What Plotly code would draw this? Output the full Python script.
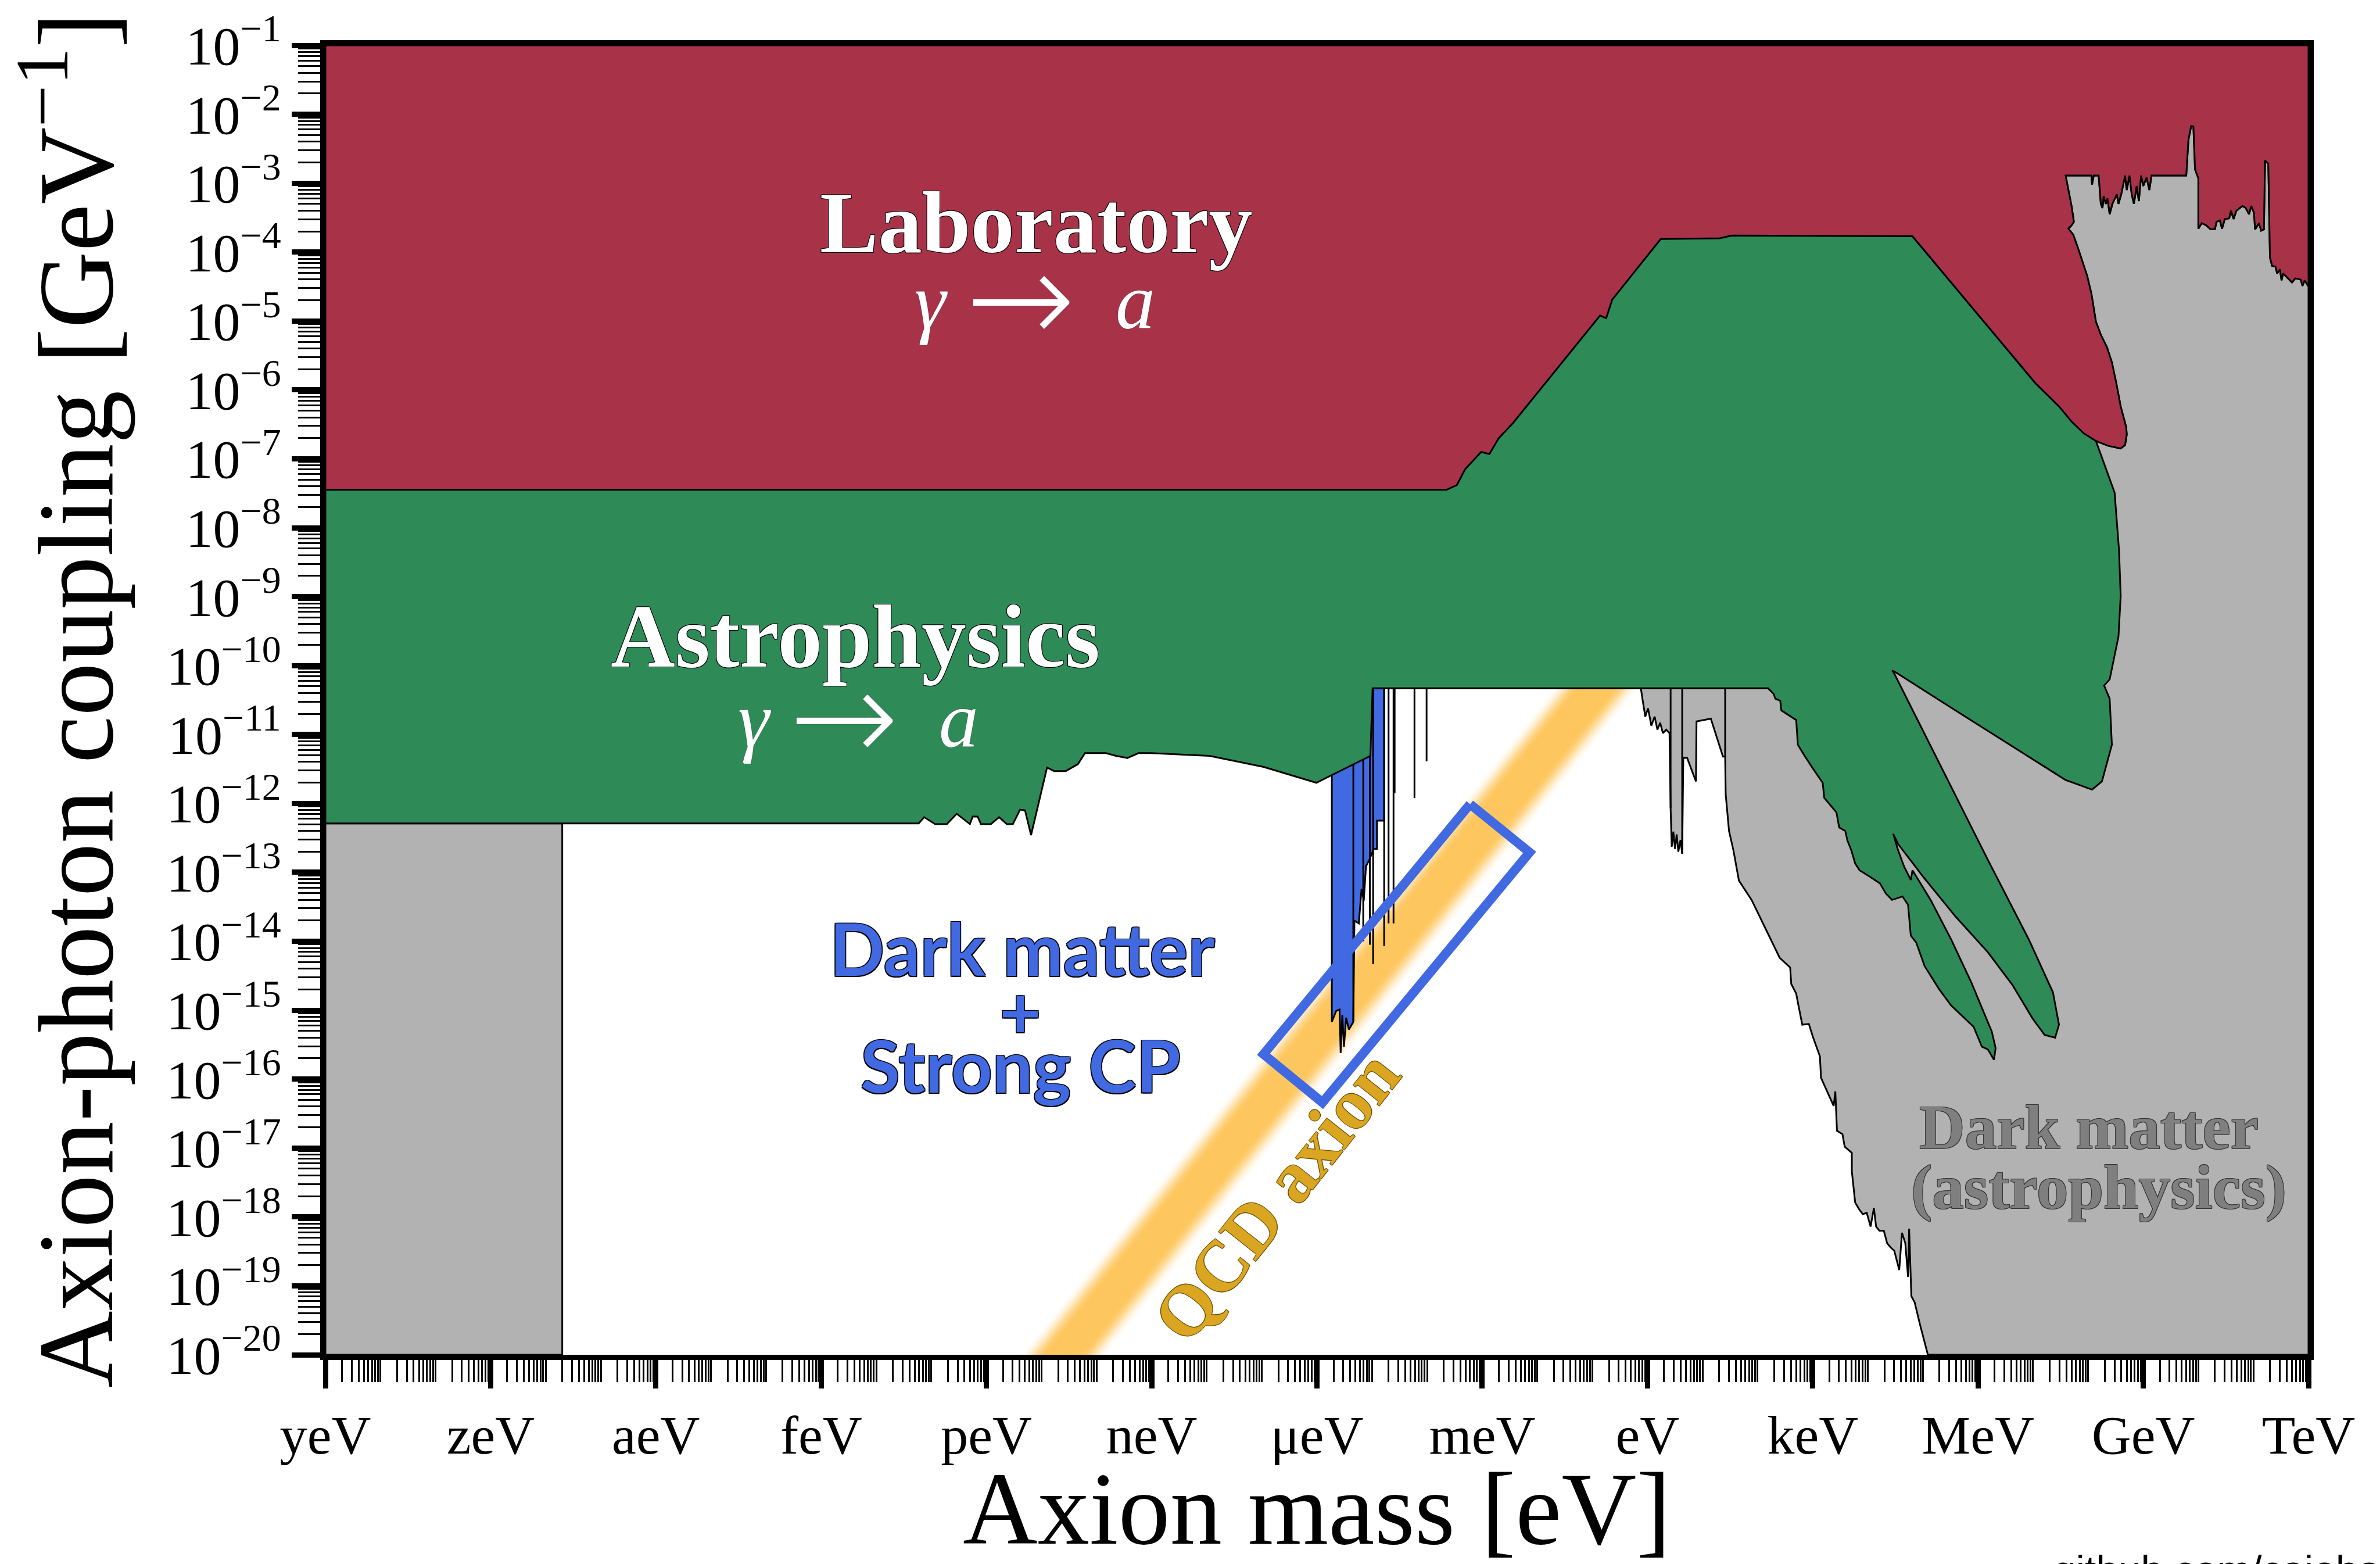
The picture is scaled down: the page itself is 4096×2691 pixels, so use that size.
import numpy as np
import plotly.graph_objects as go

S = 0.991
W, H = 4096, 2691

# ---------------- data: (log10 axion mass [eV], log10 coupling [GeV^-1]) ----------------
lab_limit = [(-24.0, -7.45), (-3.65, -7.45), (-3.46, -7.38), (-3.31, -7.15), (-3.02, -6.90), (-2.87, -6.93),
             (-2.70, -6.70), (-2.44, -6.48), (-0.86, -4.92), (-0.75, -4.96), (-0.64, -4.69), (0.24, -3.81),
             (1.31, -3.80), (1.53, -3.76), (4.81, -3.77), (7.04, -5.90), (7.47, -6.24), (7.70, -6.46),
             (7.92, -6.63), (8.14, -6.74), (8.36, -6.81)]

lab_tongue = [(8.59, -6.85), (8.67, -6.80), (8.70, -6.65), (8.69, -6.54), (8.59, -6.24), (8.51, -5.90),
              (8.43, -5.60), (8.34, -5.38), (8.23, -5.20), (8.14, -5.01), (8.11, -4.86), (8.06, -4.61),
              (7.98, -4.34), (7.89, -4.12), (7.81, -3.93), (7.73, -3.75), (7.64, -3.66), (7.70, -3.61),
              (7.74, -3.56), (7.70, -3.34), (7.64, -3.08), (7.59, -2.89)]

dm_astro_top = [(7.59, -2.89), (8.06, -2.89), (8.07, -3.02), (8.10, -2.89), (8.19, -2.89), (8.23, -3.30),
                (8.26, -3.36), (8.28, -3.19), (8.32, -3.30), (8.35, -3.22), (8.39, -3.45), (8.44, -3.30),
                (8.52, -3.16), (8.55, -3.30), (8.60, -3.16), (8.67, -2.89), (8.70, -3.10), (8.75, -2.89),
                (8.79, -3.16), (8.83, -3.30), (8.88, -3.04), (8.92, -3.26), (8.96, -2.89), (9.00, -3.04),
                (9.06, -2.92), (9.11, -3.10), (9.15, -2.89), (9.78, -2.89), (9.82, -2.37), (9.87, -2.17),
                (9.91, -2.18), (9.94, -2.80), (10.00, -2.93), (10.00, -3.66), (10.06, -3.58), (10.14, -3.61),
                (10.22, -3.67), (10.30, -3.67), (10.33, -3.56), (10.39, -3.54), (10.43, -3.66), (10.48, -3.52),
                (10.56, -3.51), (10.59, -3.40), (10.64, -3.52), (10.69, -3.40), (10.80, -3.33), (10.86, -3.36),
                (10.92, -3.45), (10.96, -3.33), (11.01, -3.43), (11.03, -3.67), (11.10, -3.58), (11.14, -3.69),
                (11.19, -3.67), (11.21, -2.67), (11.27, -2.72), (11.30, -4.08), (11.34, -4.20), (11.40, -4.21),
                (11.43, -4.31), (11.48, -4.25), (11.51, -4.41), (11.54, -4.31), (11.70, -4.44), (11.76, -4.38),
                (11.86, -4.40), (11.89, -4.49), (11.93, -4.41), (12.00, -4.50)]

dm_astro_edge = [(-0.12, -10.33), (-0.09, -10.49), (-0.04, -10.74), (0.01, -10.62), (0.07, -10.87), (0.13, -10.74),
                 (0.18, -10.93), (0.23, -10.83), (0.28, -10.98), (0.34, -10.93), (0.40, -10.98), (0.42, -12.07),
                 (0.44, -12.63), (0.47, -12.41), (0.50, -12.66), (0.53, -12.45), (0.56, -12.70), (0.60, -12.53),
                 (0.63, -12.73), (0.65, -11.34), (0.72, -11.34), (0.88, -11.68), (0.89, -10.81), (1.01, -10.79),
                 (1.15, -10.77), (1.37, -11.32), (1.41, -11.32), (1.42, -11.87), (1.48, -12.40), (1.56, -12.68),
                 (1.66, -13.12), (1.89, -13.40), (2.18, -13.88), (2.40, -14.24), (2.59, -14.38), (2.61, -14.62),
                 (2.70, -14.76), (2.74, -14.93), (2.81, -15.21), (2.93, -15.20), (3.00, -15.38), (3.13, -15.67),
                 (3.15, -15.98), (3.27, -16.20), (3.38, -16.39), (3.41, -16.18), (3.44, -16.75), (3.54, -16.80),
                 (3.58, -16.98), (3.71, -17.07), (3.71, -17.34), (3.77, -17.79), (3.85, -17.90), (3.91, -17.96),
                 (3.98, -17.94), (4.05, -18.14), (4.11, -17.87), (4.15, -18.14), (4.21, -18.20), (4.29, -18.20),
                 (4.35, -18.38), (4.41, -18.44), (4.48, -18.49), (4.57, -18.77), (4.62, -18.23), (4.68, -18.38),
                 (4.73, -18.87), (4.75, -18.17), (4.79, -19.15), (4.85, -19.24), (4.95, -19.57), (5.09, -20.0)]

astro_limit = [(-24.0, -12.29), (-13.23, -12.29), (-13.13, -12.20), (-12.93, -12.30), (-12.72, -12.30),
               (-12.54, -12.15), (-12.30, -12.30), (-12.25, -12.19), (-12.16, -12.19), (-12.10, -12.30),
               (-11.92, -12.30), (-11.77, -12.20), (-11.63, -12.30), (-11.52, -12.30), (-11.39, -12.09),
               (-11.30, -12.10), (-11.19, -12.46), (-10.90, -11.48), (-10.77, -11.53), (-10.56, -11.53),
               (-10.34, -11.43), (-10.21, -11.27), (-9.83, -11.27), (-9.65, -11.31), (-9.44, -11.34),
               (-9.24, -11.27), (-9.02, -11.27), (-7.95, -11.31), (-6.97, -11.47), (-6.01, -11.70),
               (-5.03, -11.31), (-4.99, -10.33), (2.19, -10.33), (2.29, -10.41), (2.32, -10.48), (2.41, -10.51),
               (2.43, -10.65), (2.70, -10.79), (2.73, -11.15), (2.86, -11.32), (3.00, -11.49), (3.18, -11.70),
               (3.21, -11.92), (3.33, -12.04), (3.43, -12.13), (3.48, -12.35), (3.59, -12.40), (3.63, -12.54),
               (3.70, -12.68), (3.77, -12.87), (3.85, -12.97), (4.03, -13.06), (4.22, -13.16), (4.33, -13.31),
               (4.44, -13.40), (4.63, -13.35), (4.73, -13.47), (4.78, -13.92), (4.88, -14.02), (5.03, -14.36),
               (5.29, -14.69), (5.51, -14.93), (5.70, -15.07), (5.92, -15.24), (6.07, -15.53), (6.18, -15.57),
               (6.29, -15.72), (6.32, -15.55), (6.25, -15.31), (6.07, -14.96), (5.88, -14.60), (5.51, -13.97),
               (5.14, -13.40), (4.81, -12.97), (4.78, -13.11), (4.66, -12.92), (4.55, -12.68), (4.46, -12.44),
               (4.55, -12.59), (5.00, -13.06), (5.59, -13.64), (6.18, -14.16), (6.63, -14.64), (6.99, -15.12),
               (7.21, -15.36), (7.40, -15.40), (7.47, -15.21), (7.36, -14.74), (6.92, -13.97), (6.18, -12.82),
               (5.22, -11.30), (4.47, -10.10), (4.44, -10.07), (4.51, -10.10), (5.59, -10.65), (6.77, -11.25),
               (7.59, -11.66), (8.07, -11.80), (8.25, -11.68), (8.43, -11.15), (8.39, -10.48), (8.29, -10.29),
               (8.39, -10.20), (8.55, -9.58), (8.59, -8.99), (8.56, -8.33), (8.48, -7.49), (8.14, -6.74)]

haloscopes = [(-5.73, -11.49), (-5.73, -15.17), (-5.65, -15.01), (-5.59, -14.99), (-5.57, -15.62), (-5.54, -15.07),
              (-5.51, -15.53), (-5.47, -15.11), (-5.42, -15.28), (-5.34, -15.17), (-5.32, -13.70), (-5.24, -13.74),
              (-5.19, -13.24), (-5.15, -13.41), (-5.11, -12.91), (-5.05, -12.82), (-4.97, -12.66), (-4.91, -12.66),
              (-4.91, -12.25), (-4.78, -12.25), (-4.78, -10.33), (-5.73, -10.33)]

# thin exclusion-limit lines hanging from the edge of the astrophysical bound: (log10 m, lowest log10 g)
limit_lines = [(-5.34, -15.17), (-5.16, -14.00), (-5.04, -14.05), (-4.98, -14.33), (-4.78, -14.07),
               (-4.70, -13.74), (-4.61, -13.74), (-4.59, -11.85), (-4.23, -11.92), (-4.01, -11.39),
               (0.42, -12.07), (0.63, -12.73), (1.41, -11.32)]
hole_top = -10.33

low_mass_dm = [(-24.0, -20.0), (-19.70, -20.0), (-19.70, -12.29), (-24.0, -12.29)]
dm_box = [(-3.22, -12.01), (-2.14, -12.71), (-5.90, -16.34), (-6.97, -15.64)]
qcd_axis = [(-11.6, -21.0), (0.4, -9.0)]
qcd_core = 0.3
qcd_edge = 0.8

x_tick_exp = list(range(-24, 13, 3))
x_tick_text = ["yeV", "zeV", "aeV", "feV", "peV", "neV", "μeV", "meV", "eV", "keV", "MeV", "GeV", "TeV"]
y_tick_exp = list(range(-20, 0))

# colours
RED = "#A83349"
GREEN = "#2E8B57"
GREY = "#B2B2B2"
BLUE = "#4169E1"
ORANGE = (254, 198, 94)
QCD_TXT = "#DAA520"


def xy(pts):
    return [10.0 ** p[0] for p in pts], [10.0 ** p[1] for p in pts]


fig = go.Figure()


def poly(pts, fill, lw=3.0, lc="black"):
    x, y = xy(list(pts) + [pts[0]])
    fig.add_trace(go.Scatter(x=x, y=y, mode="lines", fill="toself", fillcolor=fill,
                             line=dict(color=lc, width=lw * S), hoverinfo="skip", showlegend=False))


# QCD axion band (soft gradient via nested bands)
(lm0, lg0), (lm1, lg1) = qcd_axis
n = 22
for i in range(1, n + 1):
    d = qcd_edge - i * (qcd_edge - qcd_core) / n
    w = 0.5 * (1 - np.cos(np.pi * i / n))
    col = "rgb(%d,%d,%d)" % tuple(round(255 + (c - 255) * w) for c in ORANGE)
    pts = [(lm0 - d, lg0), (lm1 - d, lg1), (lm1 + d, lg1), (lm0 + d, lg0)]
    x, y = xy(pts + [pts[0]])
    fig.add_trace(go.Scatter(x=x, y=y, mode="lines", fill="toself", fillcolor=col,
                             line=dict(color=col, width=1), hoverinfo="skip", showlegend=False))

# haloscopes
poly(haloscopes, BLUE)

# grey DM (astrophysics) region
grey_pts = (dm_astro_top + [(12.0, -20.0)] + dm_astro_edge[::-1]
            + [(-0.12, -9.58), (5.63, -8.74), (8.14, -6.74), (8.36, -6.81)] + lab_tongue[:-1])
poly(grey_pts, GREY)
poly(low_mass_dm, GREY)

# thin limit lines
lx, ly = [], []
for m, g in limit_lines:
    lx += [10.0 ** m, 10.0 ** m, None]
    ly += [10.0 ** hole_top, 10.0 ** g, None]
fig.add_trace(go.Scatter(x=lx, y=ly, mode="lines", line=dict(color="black", width=3 * S),
                         hoverinfo="skip", showlegend=False))

# astrophysics (green)
green_pts = astro_limit + [(7.04, -5.90), (4.81, -3.77), (4.81, -1.0), (-24.0, -1.0)]
poly(green_pts, GREEN)

# laboratory (red)
red_pts = lab_limit + lab_tongue + dm_astro_top[1:] + [(12.0, -1.0), (-24.0, -1.0)]
poly(red_pts, RED)

# highlight box
bx, by = xy(dm_box + [dm_box[0]])
fig.add_trace(go.Scatter(x=bx, y=by, mode="lines", line=dict(color=BLUE, width=16 * S),
                         hoverinfo="skip", showlegend=False))

# ---------------- text ----------------
def outline(px, col="black"):
    p = px
    return (f"{p}px {p}px 0 {col}, -{p}px -{p}px 0 {col}, {p}px -{p}px 0 {col}, -{p}px {p}px 0 {col}")


ann = []
serif = "Liberation Serif"


def txt(x, y, text, size, color, family=serif, angle=0, shadow="none"):
    ann.append(dict(x=x, y=y, xref="x", yref="y", text=text, showarrow=False, textangle=angle,
                    xanchor="center", yanchor="middle",
                    font=dict(family=family, size=size * S, color=color, shadow=shadow)))


arrow = ("<span style='font-family:DejaVu Sans;font-weight:200;font-size:%dpx;baseline-shift:-%dpx'>→</span>"
         % (round(228 * S), round(26 * S)))
gamma_a = "<i>γ</i>&nbsp;" + arrow + "&nbsp;&nbsp;<i>a</i>"

txt(-11.09, -3.58, "<b>Laboratory</b>", 152, "white", shadow=outline(1))
txt(-11.12, -4.66, gamma_a, 138, "white", shadow="0px 0px 1px #000")
txt(-14.38, -9.58, "<b>Astrophysics</b>", 155, "white", shadow=outline(1))
txt(-14.33, -10.74, gamma_a, 138, "white", shadow="0px 0px 1px #000")
txt(-11.35, -14.10, "<b>Dark matter</b>", 125, BLUE, family="Lato", shadow=outline(1.5))
txt(-11.38, -15.00, "<b>+</b>", 125, BLUE, family="Lato", shadow=outline(1.5))
txt(-11.38, -15.79, "<b>Strong CP</b>", 125, BLUE, family="Lato", shadow=outline(1.5))
txt(8.01, -16.70, "<b>Dark matter</b>", 110, "#7F7F7F", shadow=outline(1, "#333"))
txt(8.19, -17.57, "<b>(astrophysics)</b>", 110, "#7F7F7F", shadow=outline(1, "#333"))
txt(-6.74, -17.70, "<b>QCD axion</b>", 125, QCD_TXT, angle=-51.5, shadow=outline(1, "#6b4e00"))

ann.append(dict(x=0.5, y=-0.1178, xref="paper", yref="paper", text="Axion mass [eV]", showarrow=False,
                xanchor="center", yanchor="middle", font=dict(family=serif, size=180 * S, color="black")))
ann.append(dict(x=-0.1297, y=0.5, xref="paper", yref="paper", text="Axion-photon coupling [GeV<sup>−1</sup>]",
                showarrow=False, textangle=-90, xanchor="center", yanchor="middle",
                font=dict(family=serif, size=185 * S, color="black")))
ann.append(dict(x=0.8708, y=-0.1459, xref="paper", yref="paper", text="github.com/cajohare", showarrow=False,
                xanchor="left", yanchor="top", font=dict(family="Liberation Sans", size=70 * S, color="black")))

x_minor = [k * 10.0 ** e for e in range(-24, 12) for k in range(1, 10) if not (k == 1 and e % 3 == 0)]
y_minor = [k * 10.0 ** e for e in range(-20, -1) for k in range(2, 10)]

axis_common = dict(type="log", showgrid=False, zeroline=False, showline=True, linewidth=9 * S,
                   linecolor="black", mirror=True, ticks="outside", ticklen=49 * S, tickwidth=9 * S,
                   tickcolor="black", tickfont=dict(family=serif, size=95 * S, color="black"))

fig.update_layout(
    width=W, height=H,
    margin=dict(l=560, r=123, t=69, b=360, pad=0),
    paper_bgcolor="white", plot_bgcolor="white",
    showlegend=False,
    annotations=ann,
    xaxis=dict(range=[-24, 12], tickmode="array", tickvals=[10.0 ** e for e in x_tick_exp],
               ticktext=x_tick_text,
               minor=dict(tickvals=x_minor, ticks="outside", ticklen=38 * S, tickwidth=3 * S,
                          tickcolor="black", showgrid=False), **axis_common),
    yaxis=dict(range=[-20, -1], tickmode="array", tickvals=[10.0 ** e for e in y_tick_exp],
               ticktext=["10<sup>−%d</sup>" % (-e) for e in y_tick_exp],
               minor=dict(tickvals=y_minor, ticks="outside", ticklen=38 * S, tickwidth=3 * S,
                          tickcolor="black", showgrid=False), **axis_common),
)

fig.write_html("out.html")
